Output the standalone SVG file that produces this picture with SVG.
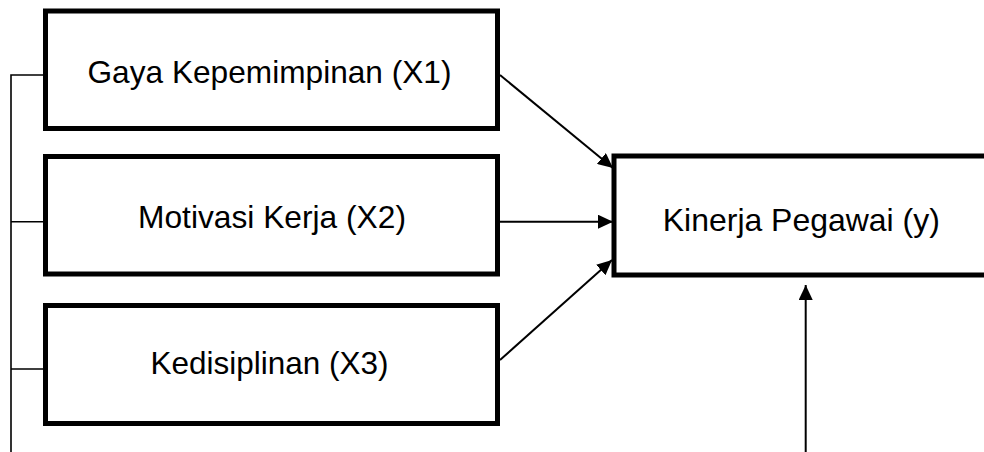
<svg xmlns="http://www.w3.org/2000/svg" width="984" height="452" viewBox="0 0 984 452">
<style>
.box{fill:#fff;stroke:#000;stroke-width:5}
.lbl{font-family:"Liberation Sans",Arial,sans-serif;font-size:31.5px;fill:#000;text-anchor:middle}
.conn{stroke:#000;stroke-width:2;fill:none}
.thin{stroke:#000;stroke-width:1.6;fill:none}
</style>
<defs>
<marker id="ah" markerUnits="userSpaceOnUse" markerWidth="16" markerHeight="14" refX="15" refY="7" orient="auto">
<path d="M0,0 L15,7 L0,14 z" fill="#000"/>
</marker>
</defs>
<g id="n1"><rect class="box" x="45.5" y="11" width="452" height="117.5"/><text class="lbl" x="269.5" y="83" textLength="364" lengthAdjust="spacingAndGlyphs">Gaya Kepemimpinan (X1)</text></g>
<g id="n2"><rect class="box" x="45.5" y="156.5" width="452" height="117.5"/><text class="lbl" x="272" y="228" textLength="268" lengthAdjust="spacingAndGlyphs">Motivasi Kerja (X2)</text></g>
<g id="n3"><rect class="box" x="45.5" y="305.5" width="452" height="118"/><text class="lbl" x="269.5" y="373.5" textLength="238" lengthAdjust="spacingAndGlyphs">Kedisiplinan (X3)</text></g>
<g id="y"><rect class="box" x="614" y="156" width="400" height="119"/><text class="lbl" x="801.3" y="231" textLength="277" lengthAdjust="spacingAndGlyphs">Kinerja Pegawai (y)</text></g>
<g id="connectors">
<path class="thin" d="M11,452 V75 H43 M11,221.7 H43 M11,369 H43"/>
<line class="conn" x1="500" y1="75" x2="613" y2="168" marker-end="url(#ah)"/>
<line class="conn" x1="500" y1="221.7" x2="613" y2="221.7" marker-end="url(#ah)"/>
<line class="conn" x1="500" y1="360" x2="612" y2="260" marker-end="url(#ah)"/>
<line class="conn" x1="805.7" y1="452" x2="805.7" y2="285" marker-end="url(#ah)"/>
</g>
</svg>
